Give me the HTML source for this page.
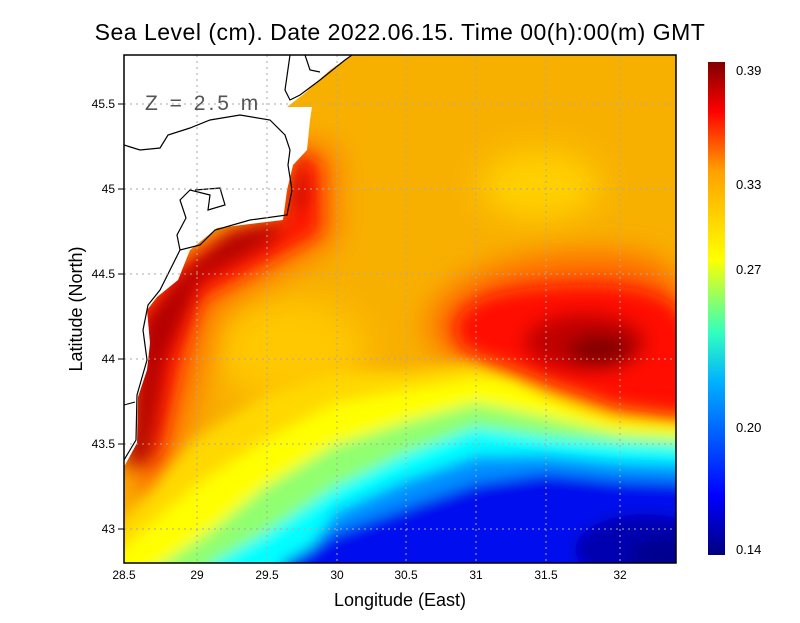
<!DOCTYPE html>
<html><head><style>
html,body{margin:0;padding:0;background:#fff;}
svg text{font-family:"Liberation Sans",sans-serif;}
</style></head><body>
<svg width="800" height="618" xmlns="http://www.w3.org/2000/svg">
<defs>
<clipPath id="pc"><rect x="124" y="55" width="552" height="508"/></clipPath>
<filter id="b1" x="-50%" y="-50%" width="200%" height="200%"><feGaussianBlur stdDeviation="16"/></filter>
<filter id="b2" x="-50%" y="-50%" width="200%" height="200%"><feGaussianBlur stdDeviation="9"/></filter>
<filter id="b3" x="-50%" y="-50%" width="200%" height="200%"><feGaussianBlur stdDeviation="7"/></filter>
<linearGradient id="cb" x1="0" y1="1" x2="0" y2="0">
<stop offset="0" stop-color="#00007f"/><stop offset="0.12" stop-color="#0000ff"/>
<stop offset="0.35" stop-color="#00b0ff"/><stop offset="0.45" stop-color="#30ffc0"/>
<stop offset="0.6" stop-color="#ffff00"/><stop offset="0.78" stop-color="#ffa000"/>
<stop offset="0.9" stop-color="#ff0000"/><stop offset="1" stop-color="#800000"/>
</linearGradient>
</defs>
<g clip-path="url(#pc)">
<rect x="100" y="40" width="600" height="540" fill="#f8b000"/>
<g filter="url(#b1)">
<ellipse cx="540" cy="185" rx="60" ry="35" fill="#ffd000"/>
<ellipse cx="290" cy="350" rx="75" ry="50" fill="#ffc800"/>
</g>
<g filter="url(#b1)">
<path d="M430,320 C450,270 540,250 620,255 C690,262 700,300 700,420 L676,420 L617,413 L546,390 L511,373 L460,360 C440,350 425,335 430,320Z" fill="#ff6000"/>
<path d="M140,500 L130,310 L185,250 L280,205 L295,140 L335,150 L335,240 L265,280 L215,310 L200,380 L175,460 L150,510Z" fill="#ff6a00"/>
</g>
<g filter="url(#b3)">
<path d="M100,530 L124,520 L194,440 L265,395 L335,372 L406,372 L476,362 L546,392 L617,412 L700,420 L700,620 L100,620Z" fill="#ffd800"/>
<path d="M100,560 L124,547 L194,487 L265,440 L335,403 L406,390 L476,378 L511,380 L546,397 L582,413 L617,423 L700,428 L700,620 L100,620Z" fill="#ffff00"/>
<path d="M100,610 L124,590 L212,530 L265,487 L335,445 L406,422 L476,403 L546,417 L617,433 L700,438 L700,620Z" fill="#90ff70"/>
<path d="M180,620 L212,563 L265,533 L335,487 L406,453 L476,427 L546,437 L617,443 L700,447 L700,620Z" fill="#00ffff"/>
<path d="M240,620 L300,563 L335,512 L406,480 L476,456 L546,455 L617,462 L700,465 L700,620Z" fill="#0090ff"/>
<path d="M270,620 L282,563 L335,533 L406,507 L476,483 L546,473 L617,480 L700,483 L700,620Z" fill="#0010ee"/>
<ellipse cx="645" cy="550" rx="70" ry="36" fill="#0000b0"/>
<ellipse cx="665" cy="555" rx="35" ry="18" fill="#000090"/>
</g>
<g filter="url(#b2)">
<path d="M458,320 C470,292 530,285 600,285 C680,290 700,310 700,412 L676,414 L617,406 L560,385 L511,366 L470,352 C455,340 452,330 458,320Z" fill="#ff1000"/>
<path d="M150,480 L138,320 L185,265 L285,222 L298,150 L318,165 L320,232 L255,268 L200,298 L180,360 L160,447 L140,495Z" fill="#ff1800"/>
</g>
<g filter="url(#b2)">
<ellipse cx="585" cy="342" rx="60" ry="28" fill="#c00000"/>
<ellipse cx="600" cy="350" rx="32" ry="15" fill="#800000"/>
<path d="M125,470 L145,320 L180,275 L230,232 L290,220 L300,150 L305,200 L270,242 L200,280 L165,360 L150,460Z" fill="#b00000"/>
</g>
<path d="M100,40 L352,40 L352,55 L330,70 L305,93 L287,107 L312,107 L310,120 L307,150 L293,165 L287,190 L283,220 L217,228 L190,250 L178,280 L157,297 L147,310 L150,343 L147,370 L138,397 L137,443 L125,465 L100,470Z" fill="#fff"/>
<path d="M124,145 L140,150 L160,148 L168,135 L190,128 L210,120 L240,115 L270,120 L285,135 L290,150 L288,165 L292,190 L287,215 L250,220 L215,230 L200,245 L180,250 L177,235 L186,218 L180,200 L190,190 L210,195 L208,210 L225,205 L220,188 L195,190" fill="none" stroke="#000" stroke-width="1.2"/>
<path d="M290,55 L285,90 L290,100 L300,95 L320,80 L345,60 L352,55 M305,55 L310,70 L320,72" fill="none" stroke="#000" stroke-width="1.2"/>
<path d="M180,250 L160,290 L148,305 L143,330 L147,360 L137,395 L136,440 L124,460" fill="none" stroke="#000" stroke-width="1.2"/>
<path d="M124,405 L135,402" fill="none" stroke="#000" stroke-width="1"/>
<g stroke="#aaa" stroke-width="1" stroke-dasharray="2,4">
<line x1="197" y1="55" x2="197" y2="563"/><line x1="267" y1="55" x2="267" y2="563"/>
<line x1="337" y1="55" x2="337" y2="563"/><line x1="406" y1="55" x2="406" y2="563"/>
<line x1="476" y1="55" x2="476" y2="563"/><line x1="546" y1="55" x2="546" y2="563"/>
<line x1="620" y1="55" x2="620" y2="563"/>
<line x1="124" y1="104" x2="676" y2="104"/><line x1="124" y1="189" x2="676" y2="189"/>
<line x1="124" y1="274" x2="676" y2="274"/><line x1="124" y1="359" x2="676" y2="359"/>
<line x1="124" y1="444" x2="676" y2="444"/><line x1="124" y1="529" x2="676" y2="529"/>
</g>
<text x="145" y="110" font-size="21" fill="#555" letter-spacing="3">Z = 2.5 m</text>
</g>
<rect x="124" y="55" width="552" height="508" fill="none" stroke="#000" stroke-width="1.5"/>
<g stroke="#000"><line x1="118" y1="104" x2="124" y2="104"/><line x1="118" y1="189" x2="124" y2="189"/><line x1="118" y1="274" x2="124" y2="274"/><line x1="118" y1="359" x2="124" y2="359"/><line x1="118" y1="444" x2="124" y2="444"/><line x1="118" y1="529" x2="124" y2="529"/></g>
<g font-size="12" text-anchor="end">
<text x="115" y="108">45.5</text><text x="115" y="193">45</text><text x="115" y="278">44.5</text>
<text x="115" y="363">44</text><text x="115" y="448">43.5</text><text x="115" y="533">43</text>
</g>
<g font-size="12" text-anchor="middle">
<text x="124" y="579">28.5</text><text x="197" y="579">29</text><text x="267" y="579">29.5</text>
<text x="337" y="579">30</text><text x="406" y="579">30.5</text><text x="476" y="579">31</text>
<text x="546" y="579">31.5</text><text x="620" y="579">32</text>
</g>
<text x="400" y="606" font-size="18" text-anchor="middle">Longitude (East)</text>
<text transform="translate(82,309) rotate(-90)" font-size="18" text-anchor="middle">Latitude (North)</text>
<text x="400" y="40" font-size="23" text-anchor="middle" letter-spacing="0.5">Sea Level (cm). Date 2022.06.15. Time 00(h):00(m) GMT</text>
<rect x="708" y="62" width="17" height="493" fill="url(#cb)"/>
<g font-size="13">
<text x="736" y="75">0.39</text><text x="736" y="189">0.33</text><text x="736" y="274">0.27</text>
<text x="736" y="432">0.20</text><text x="736" y="554">0.14</text>
</g>
</svg>
</body></html>
